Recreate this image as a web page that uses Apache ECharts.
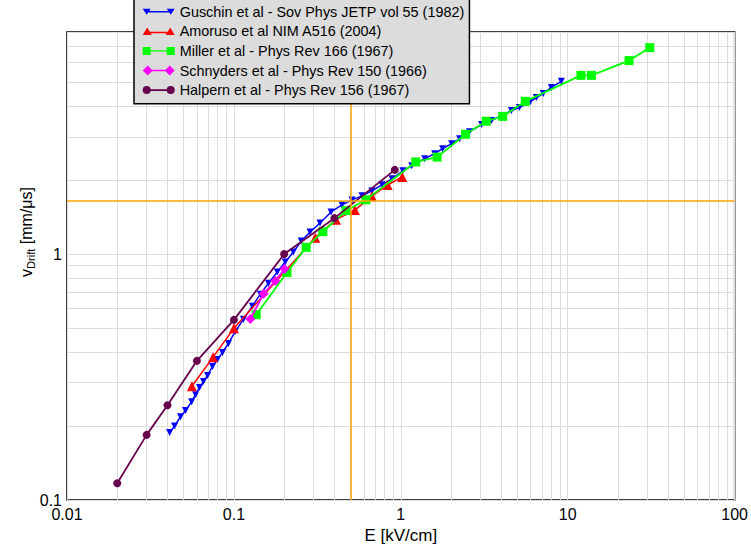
<!DOCTYPE html>
<html>
<head>
<meta charset="utf-8">
<script src="https://cdn.jsdelivr.net/npm/echarts@6/dist/echarts.min.js"></script>
<style>
html,body{margin:0;padding:0;background:#fff;}
#chart{width:751px;height:549px;}
</style>
</head>
<body>
<div id="chart"></div>
<script>
// ---- Data ----
const seriesNames = [
  'Guschin et al - Sov Phys JETP vol 55 (1982)',
  'Amoruso et al NIM A516 (2004)',
  'Miller et al - Phys Rev 166 (1967)',
  'Schnyders et al - Phys Rev 150 (1966)',
  'Halpern et al - Phys Rev 156 (1967)'
];
const guschinE = [0.0412,0.0441,0.0479,0.0513,0.0558,0.0589,0.0622,0.0657,0.0695,0.0744,0.0797,0.0854,0.0927,0.102,0.114,0.129,0.144,0.161,0.182,0.203,0.227,0.253,0.286,0.328,0.382,0.444,0.510,0.585,0.671,0.770,0.884,1.028,1.163,1.39,1.596,1.78,2.016,2.25,2.58,3.045,3.49,4.01,4.60,5.13,5.97,6.49,7.14,7.97,9.15];
const guschinV = [0.188,0.200,0.218,0.231,0.251,0.268,0.287,0.303,0.321,0.349,0.373,0.398,0.433,0.485,0.543,0.614,0.687,0.761,0.845,0.928,1.019,1.13,1.23,1.338,1.484,1.585,1.661,1.725,1.807,1.912,2.024,2.182,2.286,2.442,2.56,2.683,2.812,2.947,3.147,3.362,3.49,3.66,3.835,3.944,4.173,4.33,4.498,4.759,5.04];
const amorusoE = [0.056,0.075,0.1,0.307,0.409,0.531,0.671,0.833,1.02];
const amorusoV = [0.29,0.381,0.499,1.166,1.38,1.51,1.72,1.91,2.06];
const millerE = [0.136,0.208,0.271,0.341,0.47,0.618,1.229,1.65,2.44,3.25,4.08,5.57,12.0,13.87,23.3,31.0];
const millerV = [0.567,0.842,1.065,1.233,1.502,1.662,2.37,2.48,3.07,3.47,3.63,4.18,5.33,5.33,6.12,6.91];
const schnydersE = [0.1255,0.1506,0.177,0.201];
const schnydersV = [0.545,0.690,0.778,0.869];
const halpernE = [0.02,0.03,0.04,0.06,0.1,0.2,0.4,0.92];
const halpernV = [0.117,0.184,0.243,0.368,0.54,1.0,1.40,2.20];

const xTickValues = [0.01,0.1,1,10,100];
const xTickLabels = ['0.01','0.1','1','10','100'];
const yTickValues = [0.1,1];
const yTickLabels = ['0.1','1'];
const xMinorGrid = [0.02,0.03,0.04,0.05,0.06,0.07,0.08,0.09,0.2,0.3,0.4,0.5,0.6,0.7,0.8,0.9,2,3,4,5,6,7,8,9,20,30,40,50,60,70,80,90];
const yMinorGrid = [0.2,0.3,0.4,0.5,0.6,0.7,0.8,0.9,2,3,4,5,6,7];
const refLineE = 0.5;
const refLineV = 1.645;

// ---- build ----
function zip(a,b){ return a.map((v,i)=>[v,b[i]]); }
function tickFmt(values, labels){
  return function(v){
    for (let i=0;i<values.length;i++){
      if (Math.abs(Math.log10(v)-Math.log10(values[i]))<1e-6) return labels[i];
    }
    return '';
  };
}
const FONT = 'Liberation Sans, Arial, Helvetica, sans-serif';
const colors = ['#0000ff','#ff0000','#00ff00','#ff00ff','#66004d'];

// legend icons: marker - line - marker (line segments do not overlap markers)
const icons = [
  'path://M0 2L8 2L4 8ZM24 2L32 2L28 8ZM6 4.3L26 4.3L26 5.7L6 5.7Z',
  'path://M0 8.5L4.5 1L9 8.5ZM23 8.5L27.5 1L32 8.5ZM7 5.3L25 5.3L25 6.7L7 6.7Z',
  'path://M0 1L8 1L8 9L0 9ZM24 1L32 1L32 9L24 9ZM8 4.3L24 4.3L24 5.7L8 5.7Z',
  'path://M0 5L5 0L10 5L5 10ZM22 5L27 0L32 5L27 10ZM9.5 4.3L22.5 4.3L22.5 5.7L9.5 5.7Z',
  'path://M0 5A4 4 0 1 1 8 5A4 4 0 1 1 0 5ZM24 5A4 4 0 1 1 32 5A4 4 0 1 1 24 5ZM7.8 4.2L24.2 4.2L24.2 5.8L7.8 5.8Z'
];

function gridLines(){
  return xMinorGrid.map(v=>({xAxis:v})).concat(yMinorGrid.map(v=>({yAxis:v})));
}

const series = [
  {
    name:'__grid', type:'line', data:[], silent:true, z:1,
    markLine:{ silent:true, symbol:'none', animation:false, z:1,
      label:{show:false}, emphasis:{disabled:true},
      lineStyle:{color:'#dcdcdc', width:1, type:'solid'},
      data: gridLines() }
  },
  { name:seriesNames[0], type:'line', data:zip(guschinE,guschinV), symbol:'triangle', symbolRotate:180, symbolSize:7,
    showAllSymbol:true, lineStyle:{color:colors[0], width:1.5}, itemStyle:{color:colors[0]}, z:3 },
  { name:seriesNames[1], type:'line', data:zip(amorusoE,amorusoV), symbol:'triangle', symbolSize:10,
    showAllSymbol:true, lineStyle:{color:colors[1], width:1.5}, itemStyle:{color:colors[1]}, z:4 },
  { name:seriesNames[2], type:'line', data:zip(millerE,millerV), symbol:'rect', symbolSize:9,
    showAllSymbol:true, lineStyle:{color:colors[2], width:1.8}, itemStyle:{color:colors[2]}, z:5 },
  { name:seriesNames[3], type:'line', data:zip(schnydersE,schnydersV), symbol:'diamond', symbolSize:10,
    showAllSymbol:true, lineStyle:{color:colors[3], width:1.8}, itemStyle:{color:colors[3]}, z:6 },
  { name:seriesNames[4], type:'line', data:zip(halpernE,halpernV), symbol:'circle', symbolSize:8,
    showAllSymbol:true, lineStyle:{color:colors[4], width:1.8}, itemStyle:{color:colors[4]}, z:7 },
  {
    name:'__ref', type:'line', data:[], silent:true, z:8,
    markLine:{ silent:true, symbol:'none', animation:false, z:8,
      label:{show:false}, emphasis:{disabled:true},
      lineStyle:{color:'#ffa500', width:1.5, type:'solid'},
      data:[{xAxis:refLineE},{yAxis:refLineV}] }
  }
];

const chart = echarts.init(document.getElementById('chart'), null, {renderer:'svg'});
chart.setOption({
  animation:false,
  backgroundColor:'#ffffff',
  textStyle:{fontFamily:FONT},
  grid:{ left:67, right:16, top:32, bottom:49, show:true, borderColor:'#000', borderWidth:1.5, backgroundColor:'transparent' },
  xAxis:{
    type:'log', logBase:10, min:0.01, max:100,
    axisLine:{show:false}, axisTick:{show:false},
    axisLabel:{ formatter:tickFmt(xTickValues,xTickLabels), fontSize:16, color:'#000', margin:6, fontFamily:FONT, showMinLabel:true, showMaxLabel:true },
    splitLine:{show:true, lineStyle:{color:'#dcdcdc', width:1}},
    name:'E [kV/cm]', nameLocation:'middle', nameGap:27,
    nameTextStyle:{fontSize:17, color:'#000', fontFamily:FONT}
  },
  yAxis:{
    type:'log', logBase:10, min:0.1, max:8,
    axisLine:{show:false}, axisTick:{show:false},
    axisLabel:{ formatter:tickFmt(yTickValues,yTickLabels), fontSize:16, color:'#000', margin:5, fontFamily:FONT, showMinLabel:true, showMaxLabel:true },
    splitLine:{show:true, lineStyle:{color:'#dcdcdc', width:1}}
  },
  legend:{
    data: seriesNames.map((n,i)=>({name:n, icon:icons[i], itemStyle:{color:colors[i], borderWidth:0}})),
    orient:'vertical', left:134, top:-1,
    itemWidth:32, itemHeight:10, itemGap:3.6, itemStyle:{borderWidth:0},
    padding:[4.7,5,5.7,8.7],
    backgroundColor:'#dcdcdc', borderColor:'#000', borderWidth:1.5,
    textStyle:{fontSize:14.4, color:'#000', fontFamily:FONT, lineHeight:16},
    selectedMode:false, z:20
  },
  graphic:[{
    type:'text', x:26, y:232, rotation:Math.PI/2, z:20,
    style:{
      text:'{m|v}{s|Drift}{m| [mm/μs]}',
      align:'center', verticalAlign:'middle',
      rich:{
        m:{fontSize:16, fontFamily:FONT, fill:'#000', lineHeight:20},
        s:{fontSize:11, fontFamily:FONT, fill:'#000', lineHeight:11, verticalAlign:'bottom'}
      }
    }
  }],
  series: series
});
</script>
</body>
</html>
